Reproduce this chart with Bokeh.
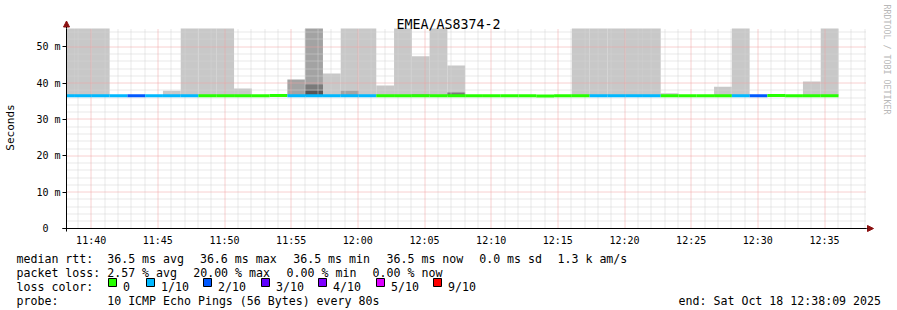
import math
from bokeh.plotting import figure
from bokeh.models import (FixedTicker, Label, BoxAnnotation, Arrow, NormalHead,
                          ColumnDataSource, LinearAxis)
from bokeh.embed import file_html
from bokeh.resources import INLINE

# ---------------- data ----------------
title = "EMEA/AS8374-2"
view_start = "11:38:09"
view_end = "12:38:09"
first_step_start = "11:37:23"
step_seconds = 80
y_max = 55

# median rtt per 80 s step (ms)
median_ms = [36.5, 36.5, 36.5, 36.5, 36.5, 36.5, 36.5, 36.5, 36.5, 36.5,
             36.5, 36.5, 36.55, 36.5, 36.5, 36.5, 36.5, 36.5, 36.5, 36.5,
             36.5, 36.5, 36.5, 36.5, 36.5, 36.5, 36.5, 36.45, 36.5, 36.5,
             36.5, 36.5, 36.5, 36.5, 36.5, 36.5, 36.5, 36.5, 36.5, 36.5,
             36.6, 36.5, 36.5, 36.5]
# lost pings (of 10) per step
loss_count = [1, 1, 1, 1, 2, 1, 1, 1, 0, 0,
              0, 0, 0, 1, 1, 1, 1, 1, 0, 0,
              0, 0, 0, 0, 0, 0, 0, 0, 0, 0,
              1, 1, 1, 1, 0, 0, 0, 0, 1, 2,
              0, 0, 0, 0]
# outer smoke (highest ping, ms); None = no smoke; 60 = off the scale
smoke_light = [60, 60, 60, None, None, None, 37.9, 60, 60, 60,
               38.5, None, None, None, None, 42.6, 60, 60, 39.3, 60,
               47.4, 60, 44.8, None, None, None, None, None, None, 60,
               60, 60, 60, 60, 37.2, None, None, 39.0, 60, None,
               None, None, 40.4, 60]
# inner smoke layers (step index, top ms)
smoke_mid_steps = [13, 14, 16, 20]
smoke_mid_top = [41.0, 60, 37.9, 37.0]
smoke_dark_steps = [14, 22]
smoke_dark_top = [39.6, 37.4]
smoke_darkest_steps = [14]
smoke_darkest_top = [37.9]

x_tick_labels = ["11:40", "11:45", "11:50", "11:55", "12:00", "12:05",
                 "12:10", "12:15", "12:20", "12:25", "12:30", "12:35"]
y_tick_values = [0, 10, 20, 30, 40, 50]
y_tick_labels = ["0\u00a0\u00a0", "10 m", "20 m", "30 m", "40 m", "50 m"]

loss_keys = [0, 1, 2, 3, 4, 5, 9]
loss_labels = ["0", "1/10", "2/10", "3/10", "4/10", "5/10", "9/10"]
loss_colors = ["#26ff00", "#00b8ff", "#0059ff", "#5e00ff", "#7e00ff", "#dd00ff", "#ff0000"]

rtt_items = ["median rtt:", "36.5 ms avg", "36.6 ms max", "36.5 ms min",
             "36.5 ms now", "0.0 ms sd", "1.3 k am/s"]
loss_items = ["packet loss:", "2.57 % avg", "20.00 % max", "0.00 % min", "0.00 % now"]
color_head = "loss color:"
probe_items = ["probe:", "10 ICMP Echo Pings (56 Bytes) every 80s"]
end_text = "end: Sat Oct 18 12:38:09 2025"
watermark = "RRDTOOL / TOBI OETIKER"
y_title = "Seconds"


def hms(s):
    parts = [int(v) for v in s.split(":")]
    while len(parts) < 3:
        parts.append(0)
    return parts[0] * 3600 + parts[1] * 60 + parts[2]


# ---------------- layout constants (canvas pixels) ----------------
W, H = 897, 310
FL, FR, FT, FB = 66, 866, 28, 228          # chart area
X0, X1 = hms(view_start), hms(view_end)
SX = (X1 - X0) / (FR - FL)                 # seconds per pixel
SY = y_max / (FB - FT)                     # ms per pixel
FONT = "DejaVu Sans Mono"

p = figure(width=W, height=H,
           x_range=(X0 - FL * SX, X0 + (W - FL) * SX),
           y_range=(-(H - FB) * SY, FB * SY),
           x_axis_location=None, y_axis_location=None,
           output_backend="svg", toolbar_location=None, min_border=0)
p.background_fill_color = "white"
p.border_fill_color = "white"
p.outline_line_color = None
p.grid.visible = False

n = len(median_ms)
t_start = hms(first_step_start)
lefts = [max(t_start + i * step_seconds, X0) for i in range(n)]
rights = [t_start + (i + 1) * step_seconds for i in range(n)]


def quads(steps, tops, color):
    keep = [(i, t) for i, t in zip(steps, tops) if t is not None]
    src = ColumnDataSource(dict(
        left=[lefts[i] for i, _ in keep],
        right=[rights[i] for i, _ in keep],
        bottom=[median_ms[i] for i, _ in keep],
        top=[min(t, y_max) for _, t in keep]))
    p.quad(left="left", right="right", bottom="bottom", top="top", source=src,
           fill_color=color, line_color=None, level="image")


quads(list(range(n)), smoke_light, "#c8c8c8")
quads(smoke_mid_steps, smoke_mid_top, "#a3a3a3")
quads(smoke_dark_steps, smoke_dark_top, "#7a7a7a")
quads(smoke_darkest_steps, smoke_darkest_top, "#565656")

# ---------------- grid (dotted, snapped to pixel centres) ----------------
x_ticks = [hms(s) for s in x_tick_labels]
x_minor = [t for t in range(X0 - X0 % 60 + 60, X1, 60) if t not in x_ticks]
y_minor = [v for v in range(2, y_max, 2) if v % 10 != 0]
y_major = [v for v in y_tick_values if v > 0]

def snap_x(t):
    c = math.floor(FL + (t - X0) / SX) + 0.5
    return X0 + (c - FL) * SX

def snap_y(v):
    c = math.floor(FB - v / SY) + 0.5
    return (FB - c) * SY

def vlines(ts, color):
    xs = [snap_x(t) for t in ts]
    p.segment(x0=xs, x1=xs, y0=[0] * len(xs), y1=[y_max] * len(xs),
              line_color=color, line_width=1, line_dash="1 1", level="underlay")

def hlines(vs, color):
    ys = [snap_y(v) for v in vs]
    p.segment(x0=[X0] * len(ys), x1=[X1] * len(ys), y0=ys, y1=ys,
              line_color=color, line_width=1, line_dash="1 1", level="underlay")

MINOR, MAJOR = "#d2d2d2", "#f0a0a0"
vlines(x_minor, MINOR)
hlines(y_minor, MINOR)
vlines(x_ticks, MAJOR)
hlines(y_major, MAJOR)

# ---------------- median line ----------------
color_of = dict(zip(loss_keys, loss_colors))
med_src = ColumnDataSource(dict(x0=lefts, x1=rights, y=median_ms,
                                c=[color_of[k] for k in loss_count]))
p.segment(x0="x0", x1="x1", y0="y", y1="y", source=med_src, line_color="c",
          line_width=3, line_cap="butt")

# ---------------- axes ----------------
xaxis = LinearAxis(fixed_location=0, bounds=(X0 - 4 * SX, X1),
                   ticker=FixedTicker(ticks=x_ticks, minor_ticks=[]),
                   major_label_overrides={t: s for t, s in zip(x_ticks, x_tick_labels)})
yaxis = LinearAxis(fixed_location=X0, bounds=(-3 * SY, y_max),
                   ticker=FixedTicker(ticks=y_tick_values, minor_ticks=[]),
                   major_label_overrides={v: s for v, s in zip(y_tick_values, y_tick_labels)})
for ax in (xaxis, yaxis):
    ax.major_label_text_font = FONT
    ax.major_label_text_font_size = "10px"
    ax.major_label_text_color = "black"
    ax.axis_line_color = "black"
    ax.axis_line_width = 1
    ax.minor_tick_out = 0
    ax.minor_tick_in = 0
    ax.major_tick_in = 0
    ax.major_tick_line_color = "black"
xaxis.major_tick_out = 0
xaxis.major_label_standoff = 6
yaxis.major_tick_out = 4
yaxis.major_label_standoff = 2
p.add_layout(xaxis, "below")
p.add_layout(yaxis, "left")

# arrow heads at the axis ends
ARROW = "#8b1010"
p.add_layout(Arrow(x_start=X1, y_start=0, x_end=X1 + 7 * SX, y_end=0,
                   line_color="black", line_width=1,
                   end=NormalHead(size=6, fill_color=ARROW, line_color=ARROW)))
p.add_layout(Arrow(x_start=X0, y_start=y_max, x_end=X0, y_end=y_max + 7.5 * SY,
                   line_color="black", line_width=1,
                   end=NormalHead(size=6, fill_color=ARROW, line_color=ARROW)))

# ---------------- texts ----------------
def text(cx, cy, s, size, align="left", baseline="alphabetic", angle=0, color="black"):
    p.add_layout(Label(x=cx, y=H - cy, x_units="screen", y_units="screen",
                       text=s.replace(" ", "\u00a0"),
                       text_font=FONT, text_font_size=size, text_align=align,
                       text_baseline=baseline, angle=angle, text_color=color))

text(448, 24, title, "13.3px", align="center")
text(10, 127, y_title, "11px", align="center", baseline="middle", angle=math.pi / 2)
text(886, 59, watermark, "8.3px", align="center", baseline="middle", angle=-math.pi / 2,
     color="#b8b8b8")

LEG = "11.6px"
rtt_x = [16, 106.7, 199.4, 292.7, 386, 478.7, 557]
for x, s in zip(rtt_x, rtt_items):
    text(x, 258, s, LEG)
loss_x = [16, 106.7, 192.7, 286.1, 372.1]
for x, s in zip(loss_x, loss_items):
    text(x, 272, s, LEG)
text(16, 286, color_head, LEG)
probe_x = [16, 106.7]
for x, s in zip(probe_x, probe_items):
    text(x, 300, s, LEG)
text(880.5, 300, end_text, LEG, align="right")

box_x = [108, 146, 203, 261, 318, 376, 433]
for bx, lab, col in zip(box_x, loss_labels, loss_colors):
    p.add_layout(BoxAnnotation(left=bx, right=bx + 8, top=H - 278, bottom=H - 286,
                               left_units="screen", right_units="screen",
                               top_units="screen", bottom_units="screen",
                               fill_color=col, fill_alpha=1, line_color="black",
                               line_width=1, line_alpha=1))
    text(bx + 14.5, 286, lab, LEG)

open("out.html", "w").write(file_html(p, INLINE))
